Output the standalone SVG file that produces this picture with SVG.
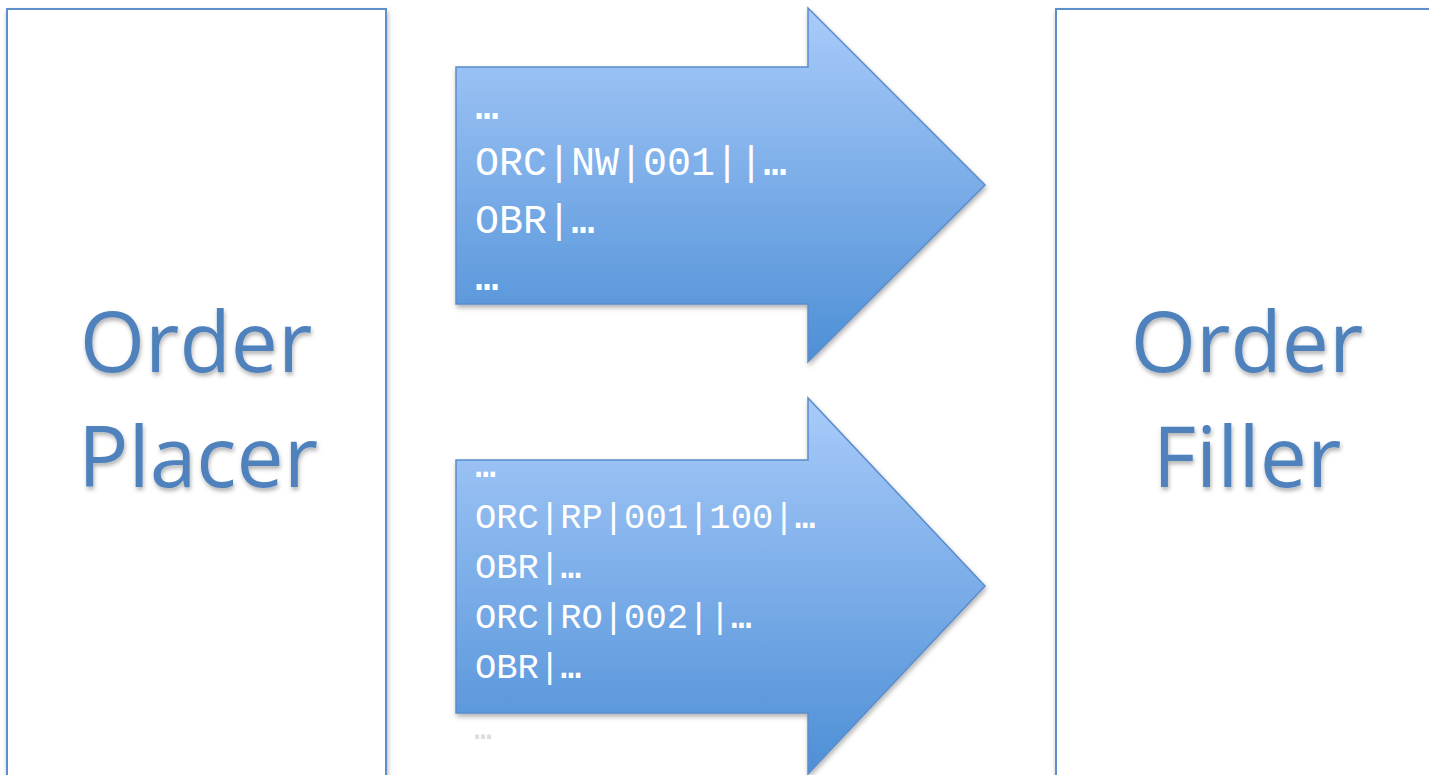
<svg xmlns="http://www.w3.org/2000/svg" width="1429" height="775" viewBox="0 0 1429 775">
<defs>
<linearGradient id="ag" x1="0" y1="0" x2="0" y2="1">
<stop offset="0" stop-color="#a9cbfa"/>
<stop offset="1" stop-color="#4d8fd6"/>
</linearGradient>
<filter id="sh" x="-5%" y="-5%" width="112%" height="112%">
<feDropShadow dx="1" dy="3" stdDeviation="2.5" flood-color="#000" flood-opacity="0.3"/>
</filter>
<filter id="tsh" x="-5%" y="-5%" width="115%" height="120%">
<feDropShadow dx="1" dy="3" stdDeviation="2" flood-color="#000" flood-opacity="0.3"/>
</filter>
</defs>
<style>
.box{fill:#fff;stroke:#5b8fcb;stroke-width:2}
.arrow{fill:url(#ag);stroke:#5a8dcc;stroke-width:1.5}
.big{font-family:"Open Sans","Noto Sans",sans-serif;font-size:84px;fill:#4f81bd;text-anchor:middle}
.code{font-family:"Liberation Mono","DejaVu Sans Mono",monospace;font-size:40px;fill:#fff}
.code2{font-family:"Liberation Mono","DejaVu Sans Mono",monospace;font-size:35.5px;fill:#fff}
.el{font-family:"DejaVu Sans Mono",monospace}
</style>
<rect width="1429" height="775" fill="#fff"/>
<g id="placer">
<rect class="box" x="7" y="9" width="379" height="790" filter="url(#sh)"/>
<text class="big" x="196" y="372" filter="url(#tsh)">Order</text>
<text class="big" x="198" y="487" filter="url(#tsh)">Placer</text>
</g>
<g id="filler">
<rect class="box" x="1056" y="9" width="400" height="790" filter="url(#sh)"/>
<text class="big" x="1247" y="372" filter="url(#tsh)">Order</text>
<text class="big" x="1247" y="487" filter="url(#tsh)">Filler</text>
</g>
<g id="connectors">
<g id="arrow1">
<path class="arrow" filter="url(#sh)" d="M456,67 H808 V8 L985,185 L808,362 V304 H456 Z"/>
<text class="code el" x="475" y="119">…</text>
<text class="code" x="475" y="175">ORC|NW|001||<tspan class="el">…</tspan></text>
<text class="code" x="475" y="233">OBR|<tspan class="el">…</tspan></text>
<text class="code el" x="475" y="290">…</text>
</g>
<g id="arrow2">
<path class="arrow" filter="url(#sh)" d="M456,460 H808 V398 L985,586 L808,774 V713 H456 Z"/>
<text class="code2 el" x="475" y="477">…</text>
<text class="code2" x="475" y="528">ORC|RP|001|100|<tspan class="el">…</tspan></text>
<text class="code2" x="475" y="578">OBR|<tspan class="el">…</tspan></text>
<text class="code2" x="475" y="628">ORC|RO|002||<tspan class="el">…</tspan></text>
<text class="code2" x="475" y="678">OBR|<tspan class="el">…</tspan></text>
<text x="474" y="739" style="font-family:'DejaVu Sans Mono',monospace;font-size:30px;fill:#dcdcdc">…</text>
</g>
</g>
</svg>
